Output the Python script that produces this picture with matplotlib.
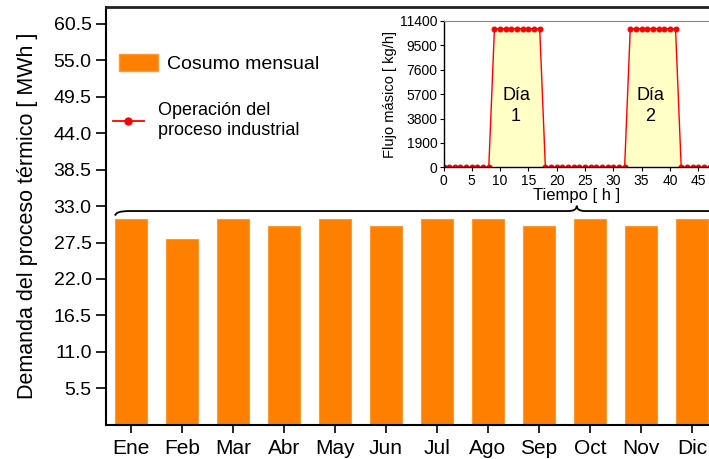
import matplotlib
matplotlib.use("Agg")
import matplotlib.pyplot as plt
from matplotlib.patches import Patch, PathPatch
from matplotlib.lines import Line2D
from matplotlib.path import Path

plt.rcParams['font.family'] = ['Liberation Sans', 'DejaVu Sans']

meses = ['Ene', 'Feb', 'Mar', 'Abr', 'May', 'Jun', 'Jul', 'Ago', 'Sep', 'Oct', 'Nov', 'Dic']
consumo = [31, 28, 31, 30, 31, 30, 31, 31, 30, 31, 30, 31]
yticks_main = [5.5, 11.0, 16.5, 22.0, 27.5, 33.0, 38.5, 44.0, 49.5, 55.0, 60.5]

horas = [0, 1, 2, 3, 4, 5, 6, 7, 8, 9, 10, 11, 12, 13, 14, 15, 16, 17, 18, 19, 20, 21, 22, 23,
         24, 25, 26, 27, 28, 29, 30, 31, 32, 33, 34, 35, 36, 37, 38, 39, 40, 41, 42, 43, 44, 45, 46, 47]
flujo = [0, 0, 0, 0, 0, 0, 0, 0, 0,
         10800, 10800, 10800, 10800, 10800, 10800, 10800, 10800, 10800,
         0, 0, 0, 0, 0, 0, 0, 0, 0, 0, 0, 0, 0, 0, 0,
         10800, 10800, 10800, 10800, 10800, 10800, 10800, 10800, 10800,
         0, 0, 0, 0, 0, 0]
yticks_in = [0, 1900, 3800, 5700, 7600, 9500, 11400]
xticks_in = [0, 5, 10, 15, 20, 25, 30, 35, 40, 45]

fig = plt.figure(figsize=(7.09, 4.59), dpi=100)
ax = fig.add_axes([105.5 / 709, 34.3 / 459, 612 / 709, 417.4 / 459])

x = list(range(len(meses)))
ax.bar(x, consumo, width=0.63, color='#FF8000', edgecolor='#FF9a33', linewidth=0.8)
ax.set_xlim(-0.5, 11.5)
ax.set_ylim(0, 63)
ax.set_xticks(x)
ax.set_xticklabels(meses, fontsize=15)
ax.set_yticks(yticks_main)
ax.set_yticklabels([f'{v:.1f}' for v in yticks_main], fontsize=14)
ax.tick_params(axis='y', direction='out', length=7, width=1.2, pad=3)
ax.tick_params(axis='x', direction='out', length=6, width=1.2, pad=4)
ax.set_ylabel('Demanda del proceso térmico [ MWh ]', fontsize=15.5, labelpad=11)
for s in ['left', 'bottom']:
    ax.spines[s].set_linewidth(1.5)
ax.spines['top'].set_linewidth(2)
ax.spines['top'].set_color('#222222')
ax.spines['right'].set_visible(False)

# brace
x0, xm, x1 = -0.31, 8.74, 11.6
yf, ye, yt = 32.25, 31.55, 33.05
dx1, dx2 = 0.28, 0.16
verts = [(x0, ye), (x0, yf), (x0 + dx1, yf),
         (xm - dx2, yf), (xm, yf), (xm, yt),
         (xm, yf), (xm + dx2, yf),
         (x1 - dx1, yf), (x1, yf), (x1, ye)]
codes = [Path.MOVETO, Path.CURVE3, Path.CURVE3,
         Path.LINETO, Path.CURVE3, Path.CURVE3,
         Path.CURVE3, Path.CURVE3,
         Path.LINETO, Path.CURVE3, Path.CURVE3]
ax.add_patch(PathPatch(Path(verts, codes), facecolor='none', edgecolor='black', lw=1.3, clip_on=False))

# legends
leg1 = ax.legend(handles=[Patch(facecolor='#FF8000', edgecolor='#FF9a33')], labels=['Cosumo mensual'],
                 loc='upper left', bbox_to_anchor=(-0.006, 0.931), frameon=False, fontsize=14,
                 handlelength=2.0, handleheight=1.0, handletextpad=0.45)
ax.add_artist(leg1)
ax.legend(handles=[Line2D([0], [0], color='red', marker='o', markersize=5, lw=1.3)],
          labels=['Operación del\nproceso industrial'],
          loc='upper left', bbox_to_anchor=(-0.015, 0.812), frameon=False, fontsize=13,
          handlelength=1.75, handletextpad=0.75)

# inset
axi = fig.add_axes([443.5 / 709, 291.7 / 459, 266 / 709, 146.3 / 459])
axi.fill_between(horas, flujo, 0, color='#FFFFC6', lw=0)
axi.plot(horas, flujo, color='#FF0000', lw=1.0, marker='o', markersize=3.3)
axi.set_xlim(0, 47)
axi.set_ylim(0, 11400)
axi.set_xticks(xticks_in)
axi.set_yticks(yticks_in)
axi.tick_params(labelsize=10, length=3, pad=1.5)
axi.set_xlabel('Tiempo [ h ]', fontsize=12, labelpad=0)
axi.set_ylabel('Flujo másico [ kg/h]', fontsize=10.5, labelpad=2)
axi.text(12.8, 4800, 'Día\n1', ha='center', va='center', fontsize=13, linespacing=1.3)
axi.text(36.5, 4800, 'Día\n2', ha='center', va='center', fontsize=13, linespacing=1.3)
axi.spines['top'].set_color('#888888')
axi.spines['right'].set_visible(False)
for s in ['left', 'bottom']:
    axi.spines[s].set_linewidth(1.0)

fig.savefig('out.png', dpi=100)
